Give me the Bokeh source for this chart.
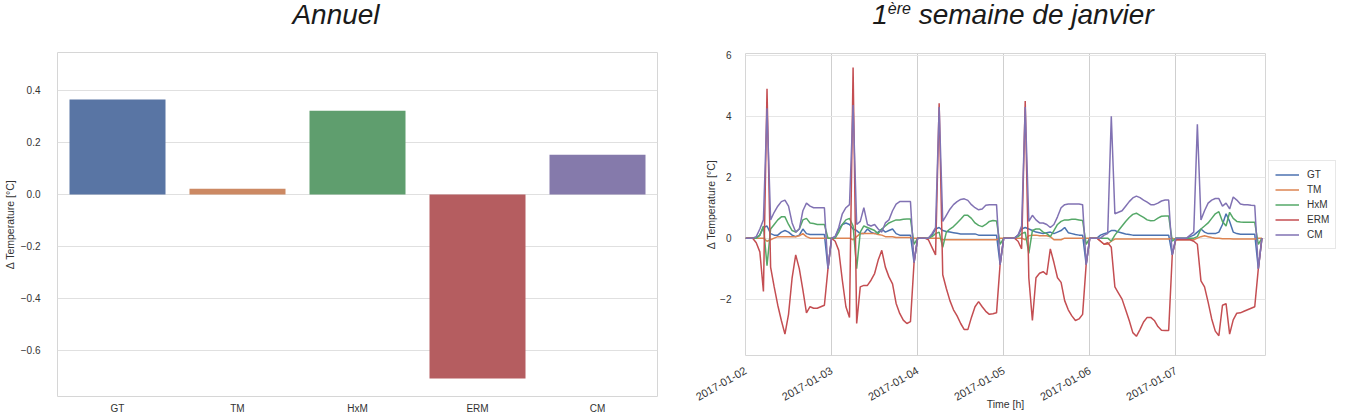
import math
from datetime import datetime, timedelta
from bokeh.plotting import figure
from bokeh.models import (Div, Range1d, FixedTicker, Legend, LegendItem,
                          DatetimeTickFormatter, ColumnDataSource)
from bokeh.layouts import row, column
from bokeh.embed import file_html
from bokeh.resources import INLINE

# ---------------- data ----------------
categories = ["GT", "TM", "HxM", "ERM", "CM"]
annual_delta = [0.365, 0.022, 0.322, -0.708, 0.153]
bar_colors = ["#5975a4", "#cc8963", "#5f9e6e", "#b55d60", "#857aab"]
line_colors = ["#4c72b0", "#dd8452", "#55a868", "#c44e52", "#8172b3"]

left_ticks = [-0.6, -0.4, -0.2, 0.0, 0.2, 0.4]
left_tick_labels = ["\u22120.6", "\u22120.4", "\u22120.2", "0.0", "0.2", "0.4"]
right_ticks = [-2, 0, 2, 4, 6]
right_tick_labels = ["\u22122", "0", "2", "4", "6"]
date_tick_labels = ["2017-01-02", "2017-01-03", "2017-01-04",
                    "2017-01-05", "2017-01-06", "2017-01-07"]

# hourly values, 2017-01-02 00:00 .. 2017-01-08 00:00
GT = [0, 0, 0, 0, 0.1, 0.35, 0.4, 0.15, 0.1, 0.1, 0.2, 0.25, 0.2, 0.1, 0.05, 0.1, 0.3, 0.15, 0.12, 0.12, 0.12, 0.12, 0.12, -1.0,
      0, 0.05, 0.3, 0.45, 0.5, 0.45, 0.3, 0.25, 0.15, 0.15, 0.3, 0.2, 0.15, 0.2, 0.3, 0.2, 0.25, 0.3, 0.15, 0.1, 0.1, 0.1, 0.1, -0.8,
      0, 0, 0, 0, 0.1, 0.3, 0.35, 0.25, 0.22, 0.2, 0.18, 0.16, 0.14, 0.14, 0.14, 0.14, 0.14, 0.1, 0.1, 0.1, 0.1, 0.1, 0.1, -0.87,
      0, 0, 0, 0, 0.1, 0.3, 0.35, 0.3, 0.25, 0.2, 0.18, 0.15, 0.18, 0.2, 0.15, 0.2, 0.25, 0.35, 0.18, 0.15, 0.12, 0.1, 0.1, -0.87,
      0, 0, 0, 0.1, 0.15, 0.18, 0.25, 0.25, 0.2, 0.17, 0.14, 0.12, 0.1, 0.1, 0.1, 0.1, 0.1, 0.1, 0.1, 0.1, 0.1, 0.1, 0.1, -0.55,
      0, 0, 0, 0, 0.05, 0.1, 0.2, 0.3, 0.2, 0.15, 0.15, 0.15, 0.2, 0.45, 0.8, 0.55, 0.2, 0.15, 0.13, 0.13, 0.13, 0.13, 0.13, -1.0,
      0]
TM = [0, 0, 0, 0, 0, 0, -0.1, -0.05, 0, 0.05, 0.05, 0.05, 0.05, 0.05, 0.05, 0.08, 0.15, 0.05, 0, 0, 0, 0, 0, 0,
      0, 0, 0, 0, 0, 0, -0.05, 0.05, 0.15, 0.15, 0.15, 0.15, 0.15, 0.12, 0.1, 0.05, 0.05, 0.05, 0.02, 0.02, 0.02, 0.02, 0.02, 0,
      0, 0, 0, 0, 0, 0, 0, -0.05, -0.05, -0.05, -0.05, -0.05, -0.05, -0.05, -0.05, -0.05, -0.05, -0.05, -0.05, -0.05, -0.05, -0.05, -0.05, 0,
      0, 0, 0, 0, 0, 0, -0.05, 0.08, 0.1, 0.1, 0.08, 0.08, 0.08, 0.05, -0.05, -0.05, -0.05, 0, 0, 0, 0, 0, 0, 0,
      0, 0, 0, -0.1, -0.2, -0.2, -0.1, -0.03, -0.03, -0.03, -0.03, -0.03, -0.03, -0.03, -0.03, -0.03, -0.03, -0.03, -0.03, -0.03, -0.03, -0.03, -0.03, 0,
      -0.05, -0.05, -0.05, -0.05, -0.05, -0.05, 0, 0.05, 0.08, 0.05, 0.02, 0, 0, -0.02, -0.02, -0.02, -0.03, -0.03, -0.03, -0.03, -0.03, -0.03, -0.03, 0,
      0]
HxM = [0, 0, 0, 0, 0.1, 0.4, -0.9, 0.3, 0.45, 0.6, 0.7, 0.7, 0.45, 0.25, 0.2, 0.3, 0.6, 0.65, 0.5, 0.48, 0.45, 0.45, 0.45, 0,
       0, 0, 0.2, 0.45, 0.6, 0.65, 0.4, -1.0, 0.2, 0.4, 0.35, 0.3, 0.25, 0.15, 0.3, 0.4, 0.5, 0.55, 0.6, 0.6, 0.62, 0.63, 0.63, -0.2,
       0, 0, 0, 0, 0.05, 0.15, 0.2, -0.3, 0.2, 0.3, 0.38, 0.5, 0.62, 0.75, 0.75, 0.65, 0.5, 0.42, 0.38, 0.45, 0.55, 0.58, 0.56, -0.2,
       0, 0, 0, 0, 0.05, 0.15, 0.2, -0.5, 0.25, 0.3, 0.3, 0.2, 0.15, 0.05, 0.25, 0.45, 0.55, 0.6, 0.6, 0.62, 0.62, 0.6, 0.58, -0.2,
       0, 0, 0, 0, 0, 0, -0.1, 0.1, 0.25, 0.4, 0.55, 0.68, 0.78, 0.82, 0.75, 0.68, 0.6, 0.57, 0.58, 0.66, 0.72, 0.73, 0.73, -0.1,
       0, 0, 0, 0, 0, 0, 0.05, 0.3, 0.4, 0.5, 0.65, 0.8, 0.87, 0.55, 0.4, 0.85, 0.65, 0.55, 0.53, 0.52, 0.52, 0.52, 0.52, -0.2,
       0]
ERM = [0, 0, 0, -0.15, -0.45, -1.75, 4.9, -0.95, -1.6, -2.2, -2.7, -3.15, -2.5, -1.3, -0.55, -1.0, -1.7, -2.45, -2.25, -2.3, -2.3, -2.25, -2.2, -1.0,
       0, -0.1, -0.4, -1.38, -2.25, -2.6, 5.6, -2.8, -1.6, -1.55, -1.55, -1.38, -1.16, -0.72, -0.4, -0.95, -1.27, -1.5, -2.14, -2.47, -2.69, -2.8, -2.74, -0.8,
       0, 0, 0, -0.05, -0.3, -0.55, 4.43, -1.2, -1.65, -2.05, -2.35, -2.55, -2.8, -3.0, -3.0, -2.6, -2.25, -2.08, -2.25, -2.4, -2.5, -2.48, -2.45, -0.85,
       0, 0, 0, 0, -0.1, -0.35, 4.5, -1.3, -2.7, -1.3, -1.15, -1.1, -1.2, -0.35, -0.8, -1.3, -1.45, -2.05, -2.35, -2.55, -2.7, -2.65, -2.5, -0.85,
       0, 0, 0, -0.1, -0.2, -0.15, -0.3, -1.6, -1.8, -2.0, -2.35, -2.7, -3.1, -3.22, -3.0, -2.75, -2.6, -2.6, -2.7, -2.9, -3.02, -3.03, -3.03, -0.55,
       -0.05, -0.05, -0.05, -0.05, -0.05, -0.1, -0.2, -1.4, -1.6, -2.1, -2.65, -3.05, -3.2, -2.2, -2.15, -3.15, -2.68, -2.46, -2.45, -2.4, -2.35, -2.3, -2.25, -1.0,
       0]
CM = [0, 0, 0, 0.05, 0.3, 0.6, 4.26, 0.6, 0.85, 1.05, 1.2, 1.25, 1.05, 0.5, 0.2, 0.3, 0.9, 1.15, 1.05, 1.0, 1.0, 1.0, 1.0, -1.0,
      0, 0.05, 0.35, 0.8, 1.0, 1.1, 4.37, 0.45, 0.55, 1.0, 0.45, 0.4, 0.45, 0.3, 0.2, 0.5, 0.6, 0.9, 1.12, 1.2, 1.2, 1.2, 1.2, -0.8,
      0, 0, 0, 0, 0.15, 0.35, 4.3, 0.55, 0.75, 0.95, 1.1, 1.2, 1.27, 1.29, 1.24, 1.1, 1.0, 0.93, 0.96, 1.08, 1.1, 1.1, 1.1, -0.87,
      0, 0, 0, 0, 0.1, 0.4, 4.3, 0.55, 0.75, 0.6, 0.5, 0.5, 0.45, 0.35, 0.45, 0.7, 1.0, 1.1, 1.12, 1.12, 1.12, 1.12, 1.1, -0.87,
      0, 0, 0, 0, 0.1, 0.15, 4.0, 0.8, 0.85, 0.9, 1.05, 1.2, 1.32, 1.38, 1.33, 1.25, 1.18, 1.1, 1.1, 1.15, 1.22, 1.25, 1.25, -0.55,
      0, 0, 0, 0, 0.1, 0.2, 3.74, 0.6, 0.9, 1.15, 1.25, 1.3, 1.3, 1.05, 1.15, 0.96, 1.35, 1.25, 1.12, 1.1, 1.1, 1.08, 1.07, -1.0,
      0]
series_names = ["GT", "TM", "HxM", "ERM", "CM"]
series_values = [GT, TM, HxM, ERM, CM]

start = datetime(2017, 1, 2)
times = [start + timedelta(hours=i) for i in range(len(GT))]
day_ticks = [start + timedelta(days=d) for d in range(6)]
day_ticks_ms = [(t - datetime(1970, 1, 1)).total_seconds() * 1000 for t in day_ticks]

FONT = "Liberation Sans"
TXT = "#333333"

# ---------------- left: annual bars ----------------
p1 = figure(x_range=categories, y_range=Range1d(-0.777, 0.546),
            frame_width=600, frame_height=344,
            min_border_left=51, min_border_right=31,
            min_border_top=22, min_border_bottom=24,
            output_backend="svg", toolbar_location=None)
src = ColumnDataSource(dict(cat=categories, val=annual_delta, col=bar_colors))
p1.vbar(x="cat", top="val", width=0.8, fill_color="col", line_color=None, source=src)
p1.xgrid.grid_line_color = None
p1.ygrid.grid_line_color = "#e0e0e0"
p1.ygrid.ticker = FixedTicker(ticks=left_ticks)
p1.outline_line_color = "#d6d6d6"
p1.yaxis.ticker = FixedTicker(ticks=left_ticks)
p1.yaxis.major_label_overrides = dict(zip(left_ticks, left_tick_labels))
p1.yaxis.axis_label = "\u0394 Temperature [\u00b0C]"
for ax in (p1.xaxis[0], p1.yaxis[0]):
    ax.axis_line_color = None
    ax.major_tick_line_color = None
    ax.minor_tick_line_color = None
    ax.major_label_text_font = FONT
    ax.major_label_text_font_size = "10px"
    ax.major_label_text_color = TXT
    ax.axis_label_text_font = FONT
    ax.axis_label_text_font_size = "10.5px"
    ax.axis_label_text_font_style = "normal"
    ax.axis_label_text_color = TXT
p1.yaxis.major_label_standoff = 11
p1.yaxis.axis_label_standoff = 2
p1.xaxis.major_label_standoff = 0

# ---------------- right: first week of January ----------------
p2 = figure(x_axis_type="datetime",
            x_range=Range1d(start, start + timedelta(hours=145)),
            y_range=Range1d(-3.85, 6.06),
            frame_width=520, frame_height=302,
            min_border_left=57, min_border_right=2,
            min_border_top=23, min_border_bottom=70,
            output_backend="svg", toolbar_location=None)
for name, vals, colr in zip(series_names, series_values, line_colors):
    p2.line(times, vals, line_color=colr, line_width=1.5)
p2.outline_line_color = "#d6d6d6"
p2.xaxis.ticker = FixedTicker(ticks=day_ticks_ms)
p2.xaxis.formatter = DatetimeTickFormatter(days="%Y-%m-%d", months="%Y-%m-%d",
                                           hours="%Y-%m-%d", years="%Y-%m-%d")
p2.xaxis.major_label_orientation = math.pi / 6
p2.xgrid.ticker = FixedTicker(ticks=day_ticks_ms)
p2.xgrid.grid_line_color = "#cfcfcf"
p2.ygrid.ticker = FixedTicker(ticks=right_ticks)
p2.ygrid.grid_line_color = "#e6e6e6"
p2.yaxis.ticker = FixedTicker(ticks=right_ticks)
p2.yaxis.major_label_overrides = dict(zip(right_ticks, right_tick_labels))
p2.yaxis.axis_label = "\u0394 Temperature [\u00b0C]"
p2.xaxis.axis_label = "Time [h]"
for ax in (p2.xaxis[0], p2.yaxis[0]):
    ax.axis_line_color = None
    ax.major_tick_line_color = None
    ax.minor_tick_line_color = None
    ax.major_label_text_font = FONT
    ax.major_label_text_font_size = "10px"
    ax.major_label_text_color = TXT
    ax.axis_label_text_font = FONT
    ax.axis_label_text_font_size = "10.5px"
    ax.axis_label_text_font_style = "normal"
    ax.axis_label_text_color = TXT
p2.xaxis.major_label_text_font_size = "11px"
p2.yaxis.major_label_standoff = 8
p2.yaxis.axis_label_standoff = 0
p2.xaxis.major_label_standoff = 8
p2.xaxis.axis_label_standoff = -10

# ---------------- legend panel (own small canvas to the right) ----------------
# the same series are drawn here far outside this canvas' range, only to key the legend
p3 = figure(width=74, height=395, x_range=Range1d(0, 1), y_range=Range1d(0, 1),
            min_border=0, x_axis_location=None, y_axis_location=None,
            output_backend="svg", toolbar_location=None)
p3.outline_line_color = None
p3.xgrid.grid_line_color = None
p3.ygrid.grid_line_color = None
items = []
for name, vals, colr in zip(series_names, series_values, line_colors):
    r = p3.line(times, vals, line_color=colr, line_width=1.5)
    items.append(LegendItem(label=name, renderers=[r]))
legend = Legend(items=items, location=(1, 106), margin=0, padding=6, spacing=0,
                label_text_font=FONT, label_text_font_size="10px",
                label_text_color=TXT, glyph_width=24, glyph_height=15,
                label_height=15, label_standoff=8,
                border_line_color="#d0d0d0", background_fill_color="white")
p3.add_layout(legend, "center")

# ---------------- titles ----------------
tstyle = ("text-align:center; font-family:'Liberation Sans', sans-serif; font-style:italic;"
          "font-size:28px; line-height:26px; margin-top:2px; color:#1a1a1a; white-space:nowrap;")
title1 = Div(text='<div style="width:672px;%s">Annuel</div>' % tstyle,
             width=682, height=30, margin=0)
title2 = Div(text='<div style="width:650px;%s">1<span style="font-size:16px; vertical-align:10px; line-height:0;">\u00e8re</span> semaine de janvier</div>' % tstyle,
             width=649, height=30, margin=0)

layout = row(column(title1, p1, spacing=0),
             column(title2, row(p2, p3, spacing=0), spacing=0), spacing=0)

html = file_html(layout, INLINE, title="chart")
html = html.replace("<body>", '<body style="overflow:hidden">', 1)
open("out.html", "w").write(html)
